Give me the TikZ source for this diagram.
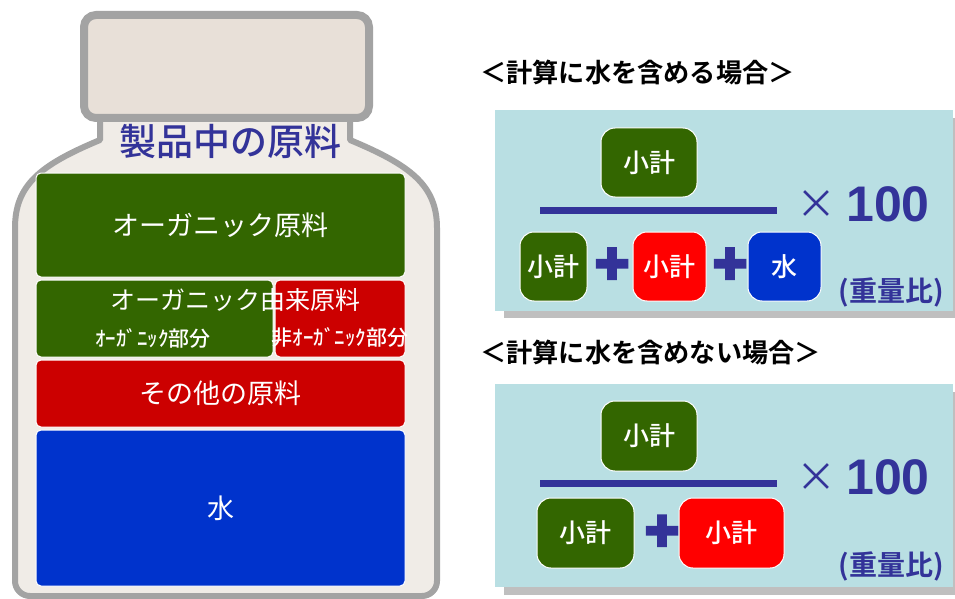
\documentclass[tikz,border=0pt]{standalone}
\usepackage{fontspec}
\newfontfamily\jp{Noto Sans CJK JP}[BoldFont={Noto Sans CJK JP Bold}]
\newfontfamily\jpm{Noto Sans CJK JP Medium}
\newfontfamily\numf{Liberation Sans}
\newfontfamily\plusf{Liberation Sans}[FakeBold=6]
\newcommand{\fs}[1]{\fontsize{#1}{#1}\selectfont}
\definecolor{gr}{HTML}{336600}
\definecolor{rd}{HTML}{CC0000}
\definecolor{brd}{HTML}{FF0000}
\definecolor{bl}{HTML}{0033CC}
\definecolor{navy}{HTML}{333399}
\definecolor{panelc}{HTML}{B9DFE3}
\definecolor{shad}{HTML}{BFBFBF}
\definecolor{edge}{HTML}{A3A3A3}
\definecolor{capf}{HTML}{E8E0D8}
\definecolor{bodyf}{HTML}{F0ECE7}
\tikzset{
  box/.style={draw=white, line width=1pt, rounded corners=5pt, inner sep=0pt, text=white, font=\jp\fs{27}},
  fbox/.style={draw=white, line width=1pt, rounded corners=14pt, inner sep=0pt, text=white, minimum height=69pt, font=\jpm\fs{26}},
  title/.style={anchor=west, inner sep=0pt, font=\jp\bfseries\fs{26.2}},
  pnl/.style={fill=panelc},
  shd/.style={fill=shad},
  frac/.style={draw=navy, line width=7pt},
  times/.style={text=navy, inner sep=0pt, font=\jp\fs{40}},
  hund/.style={text=navy, inner sep=0pt, font=\numf\bfseries\fs{50}},
  plus/.style={text=navy, inner sep=0pt, font=\plusf\bfseries\fs{58}},
  ratio/.style={text=navy, inner sep=0pt, font=\jp\bfseries\fs{28}},
  small/.style={text=white, inner sep=0pt, font=\jpm\fs{21}}
}
\begin{document}
\begin{tikzpicture}[x=1pt,y=-1pt]
\useasboundingbox (0,0) rectangle (955,599);
% bottle body
\draw[edge, line width=6pt, fill=bodyf, line join=round]
  (100,110) -- (100,140) .. controls (40,165) and (15,185) .. (15,228)
  -- (15,580) [rounded corners=15pt] -- (15,596) -- (437,596) [sharp corners] -- (437,580)
  -- (437,228) .. controls (437,185) and (410,165) .. (350,140) -- (350,110);
% cap
\draw[edge, line width=8pt, fill=capf, rounded corners=12pt] (84,15) rectangle (369,118);
\node[text=navy, font=\jpm\fs{37}, inner sep=0pt] (title0) at (230,141) {製品中の原料};
% boxes in bottle
\node[box, fill=gr, minimum width=369pt, minimum height=104pt] (org) at (220.5,225) {オーガニック原料};
\node[box, fill=gr, minimum width=237pt, minimum height=77pt] (orgpart) at (154.5,318.5) {};
\node[box, fill=rd, minimum width=130pt, minimum height=77pt] (nonorg) at (340,318.5) {};
\node[text=white, inner sep=0pt, font=\jp\fs{25}] (derived) at (235,300) {オーガニック由来原料};
\node[small] (orgtxt) at (153,338) {ｵｰｶﾞﾆｯｸ部分};
\node[small] (nonorgtxt) at (340,338) {非ｵｰｶﾞﾆｯｸ部分};
\node[box, fill=rd, minimum width=369pt, minimum height=67pt] (other) at (220.5,393.5) {その他の原料};
\node[box, fill=bl, minimum width=369pt, minimum height=156pt] (water) at (220.5,508) {水};
% panel 1
\node[title] (t1) at (480,72) {＜計算に水を含める場合＞};
\path[shd] (504,118) rectangle (955,318);
\path[pnl] (495,110) rectangle (953,311);
\node[fbox, fill=gr, minimum width=96pt] (n1) at (649,162.5) {小計};
\coordinate (l1a) at (540,210); \coordinate (l1b) at (777,210);
\draw[frac] (l1a) -- (l1b);
\node[times] (x1) at (816,205) {×};
\node[hund] (h1) at (888,204) {100};
\node[fbox, fill=gr, minimum width=67pt] (d1a) at (553.5,266.5) {小計};
\node[plus] (p1a) at (612,266) {+};
\node[fbox, fill=brd, minimum width=73pt] (d1b) at (669.5,266.5) {小計};
\node[plus] (p1b) at (730,266) {+};
\node[fbox, fill=bl, minimum width=73pt] (d1c) at (784.5,266.5) {水};
\node[ratio] (r1) at (891,292) {(重量比)};
% panel 2
\node[title] (t2) at (480,352) {＜計算に水を含めない場合＞};
\path[shd] (504,392) rectangle (955,595);
\path[pnl] (495,384) rectangle (953,587);
\node[fbox, fill=gr, minimum width=96pt, minimum height=70pt] (n2) at (649,436) {小計};
\coordinate (l2a) at (540,483); \coordinate (l2b) at (777,483);
\draw[frac] (l2a) -- (l2b);
\node[times] (x2) at (816,478) {×};
\node[hund] (h2) at (888,477) {100};
\node[fbox, fill=gr, minimum width=97pt, minimum height=70pt] (d2a) at (585.5,533) {小計};
\node[plus] (p2) at (662,533) {+};
\node[fbox, fill=brd, minimum width=105pt, minimum height=70pt] (d2b) at (731.5,533) {小計};
\node[ratio] (r2) at (891,566) {(重量比)};
\end{tikzpicture}
\end{document}
